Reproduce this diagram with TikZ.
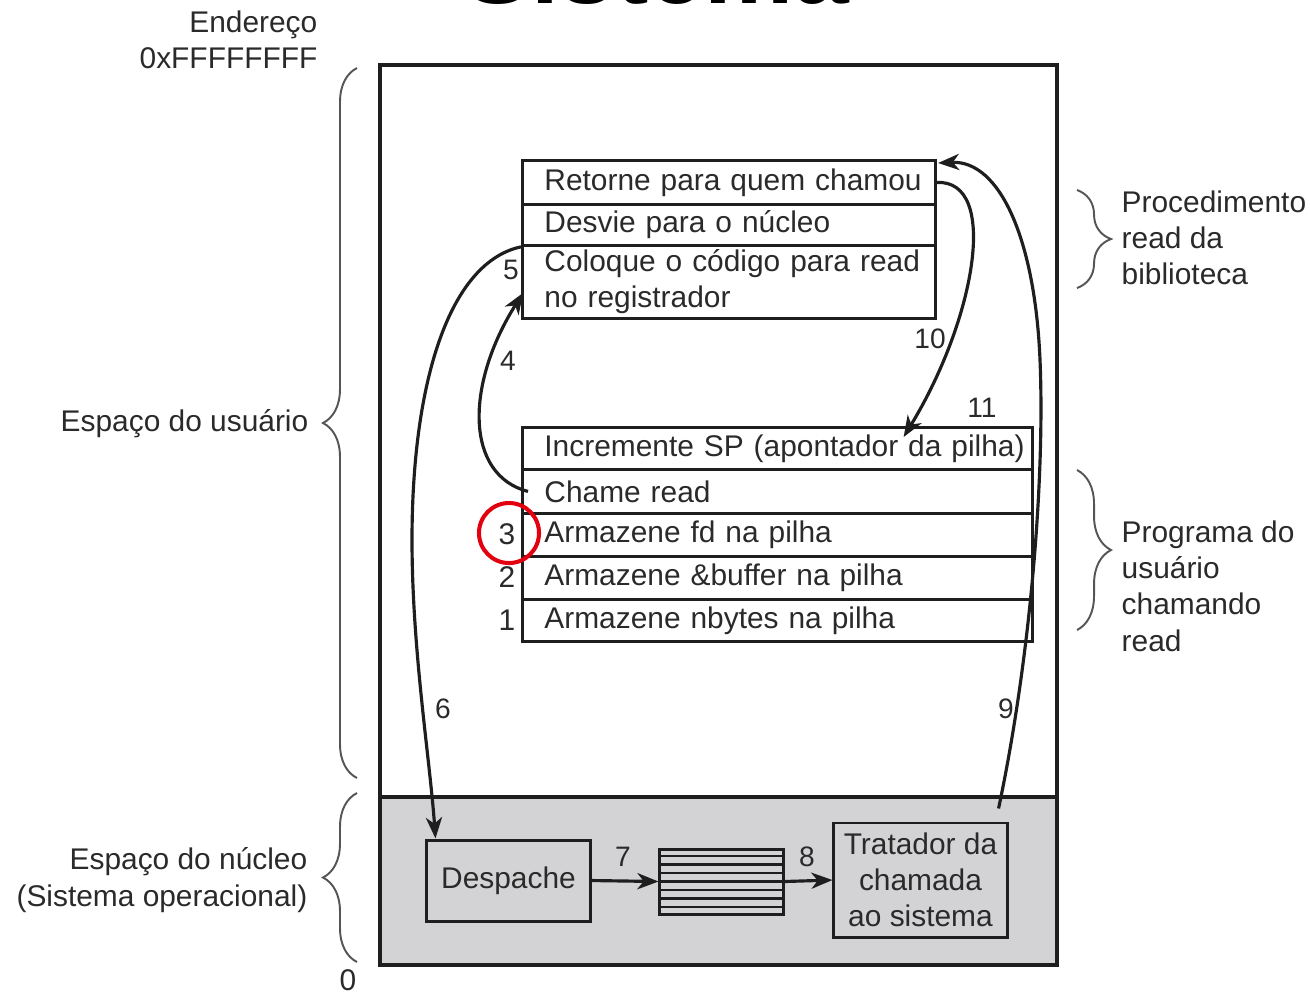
\documentclass[tikz,border=0pt]{standalone}
\usepackage{fontspec}
\setmainfont{Liberation Sans}
\usetikzlibrary{arrows.meta,decorations.pathreplacing,calc}
\definecolor{ink}{HTML}{2A2A2A}
\definecolor{linec}{HTML}{1E1E1E}
\definecolor{kern}{HTML}{D3D3D5}
\definecolor{hlred}{HTML}{E3000F}
\hbadness=10000 \hfuzz=100pt
\begin{document}
\begin{tikzpicture}[x=0.01cm,y=-0.01cm,
  txt/.style={font=\fontsize{8.5}{10.3}\selectfont, text=ink, inner sep=0pt},
  num/.style={font=\fontsize{8}{9.6}\selectfont, text=ink, inner sep=0pt},
  rowA/.style={draw=linec, line width=0.8pt, anchor=north west, text width=3.69cm, align=left,
     inner xsep=0.22cm, inner ysep=0pt, font=\fontsize{8.5}{10.3}\selectfont, text=ink},
  rowB/.style={rowA, text width=4.66cm},
  kbox/.style={draw=linec, line width=0.85pt, inner sep=0pt, align=center,
     font=\fontsize{8.5}{10.3}\selectfont, text=ink},
  arr/.style={draw=linec, line width=0.9pt, -{Stealth[length=6pt,width=4.6pt,inset=1.8pt]}},
  brc/.style={draw=ink!80, line width=0.55pt, decorate, decoration={brace, amplitude=0.34cm}},
]
\useasboundingbox (0,0) rectangle (1310,993);

% partially visible title
\node[font=\bfseries\fontsize{28.5}{30}\selectfont, anchor=base, inner sep=0pt] (title) at (657,3) {Sistema};

% address space frame
\fill[kern] (380,797) rectangle (1057,965);
\draw[linec, line width=0.95pt] (380,65) rectangle (1057,965);
\draw[linec, line width=0.95pt] (380,797) -- (1057,797);

% library procedure table
\node[rowA, minimum height=0.44cm] (r1) at (521,159) {\mbox{Retorne para quem chamou}};
\node[rowA, minimum height=0.41cm] (r2) at (521,203) {\mbox{Desvie para o núcleo}};
\node[rowA, minimum height=0.73cm] (r3) at (521,244) {\mbox{Coloque o código para read}\\\mbox{no registrador}};

% user program table
\node[rowB, minimum height=0.42cm] (c1) at (521,426) {\mbox{Incremente SP (apontador da pilha)}};
\node[rowB, minimum height=0.44cm] (c2) at (521,468) {\mbox{Chame read}};
\node[rowB, minimum height=0.43cm] (c3) at (521,512) {\mbox{Armazene fd na pilha}};
\node[rowB, minimum height=0.43cm] (c4) at (521,555) {\mbox{Armazene \&buffer na pilha}};
\node[rowB, minimum height=0.42cm] (c5) at (521,598) {\mbox{Armazene nbytes na pilha}};

% kernel boxes
\node[kbox, minimum width=1.63cm, minimum height=0.81cm] (desp) at (508.5,880.5) {Despache};
\node[draw=linec, line width=0.85pt, minimum width=1.23cm, minimum height=0.65cm, inner sep=0pt] (tab) at (721.5,881.5) {};
\foreach \i in {1,...,7}
  \draw[linec, line width=0.75pt] ($(tab.north west)!\i/8!(tab.south west)$) -- ($(tab.north east)!\i/8!(tab.south east)$);
\node[kbox, minimum width=1.73cm, minimum height=1.14cm] (trat) at (920.5,880) {Tratador da\\chamada\\ao sistema};

% arrows
\draw[arr] (r2.south west) .. controls (450,262) and (412,380) .. (412,540)
   .. controls (412,650) and (430,760) .. ([xshift=0.1cm]desp.north west);
\draw[arr] ([xshift=0.07cm]c2.west) .. controls (465,475) and (465,385) .. ([shift={(0.02cm,-0.11cm)}]r3.west);
\draw[arr] (r1.east) .. controls (1000,180) and (975,320) .. ([shift={(1.26cm,-0.11cm)}]c1.north);
\draw[arr] ([shift={(-0.1cm,0.13cm)}]trat.north east) .. controls (1030,660) and (1045,480) .. (1040,360)
   .. controls (1035,240) and (1000,160) .. ([shift={(0.01cm,-0.04cm)}]r1.north east);
\draw[arr] (desp.east) -- (tab.west);
\draw[arr] (tab.east) -- (trat.west);

% step numbers
\node[num] (n5) at (511,270) {5};
\node[num] (n4) at (508,361) {4};
\node[num] (n10) at (930,339) {10};
\node[num] (n11) at (982,408) {11};
\node[txt] (n3) at (507,534) {3};
\node[txt] (n2) at (507,577) {2};
\node[txt] (n1) at (507,620) {1};
\node[num] (n6) at (443,709) {6};
\node[num] (n9) at (1006,709) {9};
\node[num] (n7) at (623,857) {7};
\node[num] (n8) at (807,857) {8};

% highlight circle
\node[draw=hlred, circle, line width=1.15pt, minimum size=0.6cm, inner sep=0pt] (hl) at (509,533) {};

% braces
\draw[brc] (357,778) -- (357,68);
\draw[brc] (357,962) -- (357,793);
\draw[brc] (1077,190) -- (1077,288);
\draw[brc] (1077,470) -- (1077,630);

% side labels
\node[txt, anchor=east, align=right] (addr) at (318,40) {Endereço\\0xFFFFFFFF};
\node[txt] (zero) at (348,980) {0};
\node[txt, anchor=east] (us) at (309,424) {Espaço do usuário};
\node[txt, anchor=east, align=right] (ks) at (308,880) {Espaço do núcleo\\(Sistema operacional)};
\node[txt, anchor=west, align=left] (lib) at (1121,238) {Procedimento\\read da\\biblioteca};
\node[txt, anchor=west, align=left] (prog) at (1121,586) {Programa do\\usuário\\chamando\\read};
\end{tikzpicture}
\end{document}
